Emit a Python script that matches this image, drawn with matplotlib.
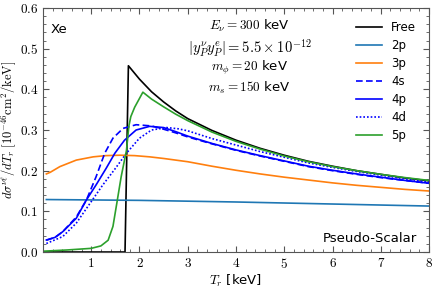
import matplotlib
matplotlib.use("Agg")
import matplotlib.pyplot as plt
from matplotlib.ticker import MultipleLocator, FuncFormatter

plt.rcParams['mathtext.fontset'] = 'cm'
plt.rcParams['font.family'] = ['DejaVu Sans']

# ---- data ----
T_free = [0.0, 1.70, 1.77, 2.0, 2.25, 2.5, 2.75, 3.0, 3.5, 4.0, 4.5, 5.0, 5.5, 6.0, 6.5, 7.0, 7.5, 8.0]
free = [0.0, 0.0, 0.458, 0.425, 0.394, 0.369, 0.347, 0.328, 0.299, 0.275, 0.255, 0.238, 0.223, 0.211, 0.200, 0.191, 0.182, 0.175]

T_2p = [0.07, 2.0, 4.0, 6.0, 8.0]
v_2p = [0.129, 0.127, 0.123, 0.118, 0.113]

T_3p = [0.07, 0.15, 0.35, 0.69, 1.04, 1.3, 1.59, 1.9, 2.21, 2.5, 3.0, 3.5, 4.0, 4.5, 5.0, 5.5, 6.0, 6.5, 7.0, 7.5, 8.0]
v_3p = [0.192, 0.196, 0.210, 0.226, 0.234, 0.237, 0.238, 0.237, 0.234, 0.230, 0.222, 0.211, 0.201, 0.192, 0.184, 0.177, 0.170, 0.164, 0.159, 0.154, 0.150]

T_4s = [0.07, 0.25, 0.41, 0.69, 0.9, 1.1, 1.28, 1.45, 1.66, 1.93, 2.25, 2.5, 2.75, 3.0, 3.5, 4.0, 4.5, 5.0, 5.5, 6.0, 6.5, 7.0, 7.5, 8.0]
v_4s = [0.029, 0.036, 0.050, 0.086, 0.128, 0.185, 0.243, 0.280, 0.304, 0.313, 0.310, 0.302, 0.293, 0.283, 0.266, 0.250, 0.236, 0.223, 0.210, 0.200, 0.191, 0.183, 0.176, 0.169]

T_4p = [0.07, 0.25, 0.41, 0.69, 0.9, 1.1, 1.31, 1.49, 1.69, 1.93, 2.21, 2.5, 2.75, 3.0, 3.5, 4.0, 4.5, 5.0, 5.5, 6.0, 6.5, 7.0, 7.5, 8.0]
v_4p = [0.0295, 0.036, 0.050, 0.083, 0.128, 0.165, 0.206, 0.243, 0.275, 0.300, 0.309, 0.306, 0.296, 0.285, 0.267, 0.251, 0.237, 0.224, 0.211, 0.201, 0.192, 0.184, 0.176, 0.169]

T_4d = [0.07, 0.41, 0.69, 1.0, 1.24, 1.49, 1.73, 2.0, 2.25, 2.56, 2.8, 3.0, 3.5, 4.0, 4.5, 5.0, 5.5, 6.0, 6.5, 7.0, 7.5, 8.0]
v_4d = [0.021, 0.038, 0.071, 0.124, 0.165, 0.204, 0.243, 0.280, 0.300, 0.306, 0.303, 0.298, 0.279, 0.263, 0.247, 0.233, 0.219, 0.208, 0.198, 0.189, 0.180, 0.172]

T_5p = [0.0, 0.5, 1.0, 1.2, 1.35, 1.45, 1.53, 1.62, 1.73, 1.78, 1.82, 1.9, 2.07, 2.25, 2.5, 2.75, 3.0, 3.5, 4.0, 4.5, 5.0, 5.5, 6.0, 6.5, 7.0, 7.5, 8.0]
v_5p = [0.002, 0.005, 0.009, 0.015, 0.029, 0.063, 0.120, 0.185, 0.250, 0.310, 0.333, 0.356, 0.393, 0.376, 0.357, 0.339, 0.323, 0.295, 0.272, 0.253, 0.236, 0.222, 0.210, 0.200, 0.191, 0.183, 0.176]

x_ticks = [1, 2, 3, 4, 5, 6, 7, 8]
y_ticks = [0.0, 0.1, 0.2, 0.3, 0.4, 0.5, 0.6]

fig = plt.figure(figsize=(4.36, 2.90), dpi=100)
ax = fig.add_axes([0.0986, 0.131, 0.8854, 0.8414])

lw = 1.2
ax.plot(T_free, free, color='black', lw=lw, label='Free')
ax.plot(T_2p, v_2p, color='#1f77b4', lw=lw, label='2p')
ax.plot(T_3p, v_3p, color='#ff7f0e', lw=lw, label='3p')
ax.plot(T_4s, v_4s, color='blue', lw=lw, ls=(0, (4, 2)), label='4s')
ax.plot(T_4p, v_4p, color='blue', lw=lw, label='4p')
ax.plot(T_4d, v_4d, color='blue', lw=lw, ls=(0, (1, 1.2)), label='4d')
ax.plot(T_5p, v_5p, color='#2ca02c', lw=lw, label='5p')

ax.set_xlim(0, 8)
ax.set_ylim(0, 0.6)
ax.set_xticks(x_ticks)
ax.set_yticks(y_ticks)
ax.xaxis.set_minor_locator(MultipleLocator(0.2))
ax.yaxis.set_minor_locator(MultipleLocator(0.02))
ax.xaxis.set_major_formatter(FuncFormatter(lambda v, p: f"${v:.0f}$"))
ax.yaxis.set_major_formatter(FuncFormatter(lambda v, p: f"${v:.1f}$"))
ax.tick_params(which='both', direction='in', top=True, right=True, labelsize=9.5, color='#555555')
ax.tick_params(which='major', length=4)
ax.tick_params(which='minor', length=2)
for s in ax.spines.values():
    s.set_color('#555555')
    s.set_linewidth(0.8)

ax.set_xlabel(r"$T_r$ [keV]", fontsize=9.5, labelpad=1)
ax.set_ylabel(r"$d\sigma^{\nu\ell}/dT_r\ [10^{-46}\mathrm{cm}^2/\mathrm{keV}]$", fontsize=9, labelpad=1)

ax.text(0.02, 0.94, "Xe", transform=ax.transAxes, fontsize=9.5, ha='left', va='top')
ax.text(0.97, 0.03, "Pseudo-Scalar", transform=ax.transAxes, fontsize=9.5, ha='right', va='bottom')

tx = 0.535
ax.text(tx, 0.925, r"$E_\nu = 300$ keV", transform=ax.transAxes, fontsize=9.5, ha='center', va='center')
ax.text(tx, 0.835, r"$|y_P^\nu y_P^e| = 5.5\times10^{-12}$", transform=ax.transAxes, fontsize=10.5, ha='center', va='center')
ax.text(tx, 0.755, r"$m_\phi = 20$ keV", transform=ax.transAxes, fontsize=9.5, ha='center', va='center')
ax.text(tx, 0.672, r"$m_s = 150$ keV", transform=ax.transAxes, fontsize=9.5, ha='center', va='center')

ax.legend(loc='upper right', frameon=False, fontsize=8.5, handlelength=2.2, labelspacing=0.42,
          borderaxespad=0.2, borderpad=0.9, handletextpad=0.8)

fig.savefig("out.png", dpi=100)
